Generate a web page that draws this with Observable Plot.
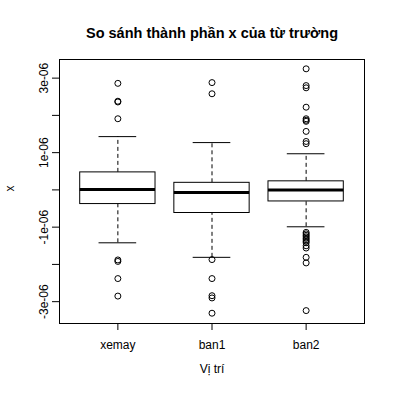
<!DOCTYPE html>
<html>
<head>
<meta charset="utf-8">
<script src="https://cdn.jsdelivr.net/npm/d3@7"></script>
<script src="https://cdn.jsdelivr.net/npm/@observablehq/plot@0.6"></script>
<style>
  html, body { margin: 0; padding: 0; background: #fff; }
  svg { display: block; }
</style>
</head>
<body>
<div id="chart"></div>
<script>
// Values in units of 1e-06
const categories = ["xemay", "ban1", "ban2"];
const whiskerLow  = [-1.42, -1.81, -0.99];
const q1          = [-0.38, -0.62, -0.31];
const medians     = [ 0.01, -0.07,  0.00];
const q3          = [ 0.47,  0.19,  0.23];
const whiskerHigh = [ 1.43,  1.27,  0.97];
const outliersXemay = [2.86, 2.38, 2.36, 1.91, -1.88, -1.92, -2.38, -2.85];
const outliersBan1  = [2.88, 2.58, -1.87, -2.38, -2.84, -2.90, -3.31];
const outliersBan2  = [3.25, 2.80, 2.74, 2.22, 1.91, 1.87, 1.84, 1.57, 1.30, 1.24,
                       -1.14, -1.18, -1.22, -1.26, -1.30, -1.34, -1.38, -1.42, -1.50, -1.56, -1.81, -1.96, -3.24];
const yTicks = [-3, -2, -1, 0, 1, 2, 3];
const yTickLabels = ["-3e-06", "", "-1e-06", "", "1e-06", "", "3e-06"];

const S = 1e-6;
const boxes = categories.map((c, i) => ({
  cat: c, pos: i + 1,
  lo: whiskerLow[i] * S, q1: q1[i] * S, med: medians[i] * S, q3: q3[i] * S, hi: whiskerHigh[i] * S
}));
const outlierLists = [outliersXemay, outliersBan1, outliersBan2];
const outliers = outlierLists.flatMap((arr, i) => arr.map(v => ({pos: i + 1, v: v * S})));

const font = "'Liberation Sans', Arial, Helvetica, sans-serif";

const chart = Plot.plot({
  width: 396,
  height: 396,
  marginLeft: 59,
  marginRight: 32,
  marginTop: 59,
  marginBottom: 73,
  style: {fontFamily: font, fontSize: "12px", color: "#000", background: "#fff"},
  x: {domain: [0.38, 3.62], axis: null},
  y: {domain: [-3.586e-6, 3.50e-6], axis: null},
  marks: [
    // whiskers (dashed)
    Plot.ruleX(boxes, {x: "pos", y1: "q3", y2: "hi", stroke: "#000", strokeDasharray: "4,3"}),
    Plot.ruleX(boxes, {x: "pos", y1: "lo", y2: "q1", stroke: "#000", strokeDasharray: "4,3"}),
    // staples
    Plot.ruleY(boxes, {y: "hi", x1: d => d.pos - 0.2, x2: d => d.pos + 0.2, stroke: "#000"}),
    Plot.ruleY(boxes, {y: "lo", x1: d => d.pos - 0.2, x2: d => d.pos + 0.2, stroke: "#000"}),
    // boxes
    Plot.rect(boxes, {x1: d => d.pos - 0.4, x2: d => d.pos + 0.4, y1: "q1", y2: "q3", fill: "#fff", stroke: "#000"}),
    // medians
    Plot.ruleY(boxes, {y: "med", x1: d => d.pos - 0.4, x2: d => d.pos + 0.4, stroke: "#000", strokeWidth: 3}),
    // outliers
    Plot.dot(outliers, {x: "pos", y: "v", r: 3, stroke: "#000", fill: "none", strokeWidth: 1}),
    // frame
    Plot.frame({stroke: "#000"}),
    // x axis
    Plot.axisX({ticks: boxes.map(d => d.pos), tickFormat: (d) => categories[d - 1], tickSize: 7, tickPadding: 10, fontSize: 12, label: null}),
    // y axis
    Plot.axisY({ticks: yTicks.map(t => t * S), tickFormat: (d) => yTickLabels[yTicks.indexOf(Math.round(d / S))], tickSize: 7, tickRotate: -90, tickPadding: 5, fontSize: 12, label: null}),
    // title and axis labels
    Plot.text(["So sánh thành phần x của từ trường"], {frameAnchor: "top", dy: -32, fontWeight: "bold", fontSize: 14.5}),
    Plot.text(["Vị trí"], {frameAnchor: "bottom", dy: 49, fontSize: 12}),
    Plot.text(["x"], {frameAnchor: "left", dx: -49, rotate: -90, fontSize: 12})
  ]
});
document.getElementById("chart").appendChild(chart);
</script>
</body>
</html>
